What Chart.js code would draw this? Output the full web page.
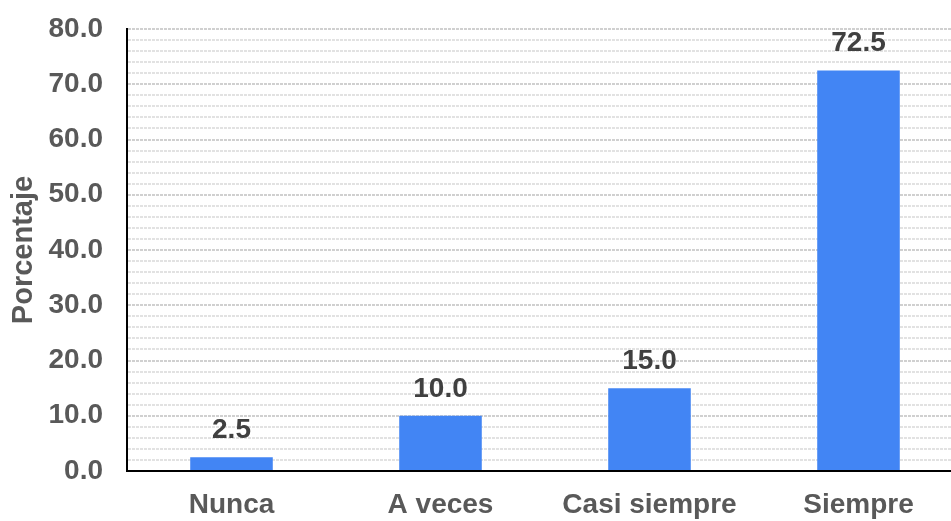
<!DOCTYPE html>
<html>
<head>
<meta charset="utf-8">
<script src="https://cdn.jsdelivr.net/npm/chart.js@4"></script>
<style>
  html, body { margin: 0; padding: 0; background: #fff; overflow: hidden; }
  #wrap { width: 970px; height: 521px; }
</style>
</head>
<body>
<div id="wrap"><canvas id="freqChart" width="970" height="521"></canvas></div>
<script>
// Respuestas por categoría
const categorias = ['Nunca', 'A veces', 'Casi siempre', 'Siempre'];
const porcentajes = [2.5, 10.0, 15.0, 72.5];
const yMin = 0;
const yMax = 80;

const fontFamily = '"Liberation Sans", Arial, sans-serif';

// values printed above each bar
const barLabels = {
    id: 'barLabels',
    afterDatasetsDraw(chart) {
        const ctx = chart.ctx;
        const meta = chart.getDatasetMeta(0);
        ctx.save();
        ctx.font = 'bold 28px ' + fontFamily;
        ctx.fillStyle = '#404040';
        ctx.textAlign = 'center';
        ctx.textBaseline = 'alphabetic';
        meta.data.forEach((bar, i) => {
            ctx.fillText(porcentajes[i].toFixed(1), bar.x, bar.y - 19);
        });
        ctx.restore();
    }
};

const ctx = document.getElementById('freqChart').getContext('2d');
new Chart(ctx, {
    type: 'bar',
    data: {
        labels: categorias,
        datasets: [{
            data: porcentajes,
            backgroundColor: '#4285F4',
            categoryPercentage: 1,
            barPercentage: 0.395
        }]
    },
    options: {
        responsive: false,
        animation: false,
        layout: { padding: { top: 29, right: 7, left: 0, bottom: 0 } },
        plugins: {
            legend: { display: false },
            tooltip: { enabled: false }
        },
        scales: {
            x: {
                grid: { display: false, drawTicks: false },
                border: { display: true, color: '#000', width: 2 },
                ticks: {
                    color: '#595959',
                    padding: 17,
                    font: { family: fontFamily, size: 28, weight: 'bold' }
                },
                afterFit(scale) { scale.height = 50; }
            },
            y: {
                min: yMin,
                max: yMax,
                ticks: {
                    stepSize: 2,
                    autoSkip: false,
                    color: '#595959',
                    padding: 24,
                    font: { family: fontFamily, size: 28, weight: 'bold' },
                    callback: v => (v % 10 === 0 ? v.toFixed(1) : '')
                },
                grid: {
                    drawTicks: false,
                    color: c => (c.tick && c.tick.value % 10 === 0 ? '#d0d0d0' : '#e2e2e2'),
                    lineWidth: 2
                },
                border: { display: true, color: '#000', width: 2, dash: [3, 1] },
                title: {
                    display: true,
                    text: 'Porcentaje',
                    color: '#595959',
                    padding: { top: 7, bottom: 0 },
                    font: { family: fontFamily, size: 29, weight: 'bold' }
                },
                afterFit(scale) {
                    scale.width = 127;
                    scale.paddingTop = 0;
                }
            }
        }
    },
    plugins: [barLabels]
});
</script>
</body>
</html>
